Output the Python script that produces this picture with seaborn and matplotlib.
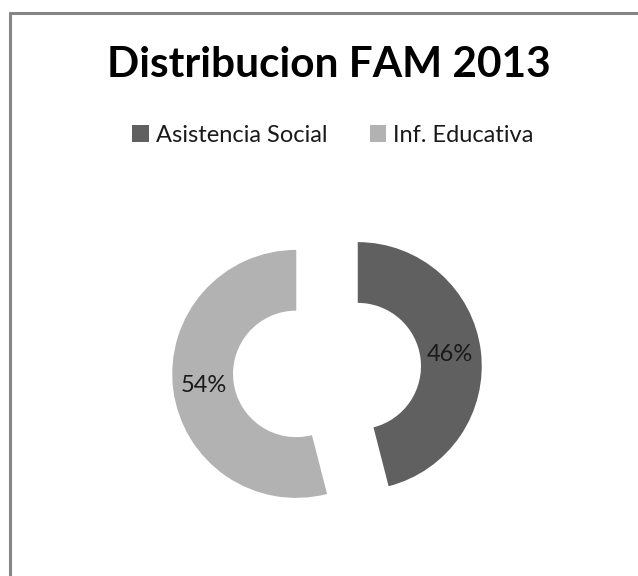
import matplotlib
matplotlib.use("Agg")
import matplotlib.pyplot as plt
from matplotlib.lines import Line2D
from matplotlib.patches import Patch
import seaborn as sns

# Programme shares for 2013
categories = ["Asistencia Social", "Inf. Educativa"]
shares = [46, 54]
colors = ["#606060", "#b2b2b2"]
title = "Distribucion FAM 2013"

sns.set_theme(style="white")
plt.rcParams["font.family"] = ["Lato", "DejaVu Sans"]

W, H = 638, 576
fig = plt.figure(figsize=(W / 100, H / 100), dpi=100)
fig.patch.set_facecolor("white")

# axes in pixel units over the whole canvas
ax = fig.add_axes([0, 0, 1, 1])

radius = 124
center = (327, H - 370)
gap = 31  # slice separation, same units as the radius
ax.pie(
    shares,
    colors=colors,
    startangle=90,
    counterclock=False,
    explode=[gap, gap],
    radius=radius,
    center=center,
    frame=True,
    autopct=lambda p: f"{p:.0f}%",
    pctdistance=0.75,
    wedgeprops=dict(width=radius * 0.49, edgecolor="none"),
    textprops=dict(fontsize=17, color="#1a1a1a"),
)
ax.set_xlim(0, W)
ax.set_ylim(0, H)
ax.set_aspect("equal")
ax.set_axis_off()

# chart-area frame (top and left edges)
fig.add_artist(Line2D([9.5 / W, 1.0], [1 - 12.5 / H, 1 - 12.5 / H],
                      transform=fig.transFigure, color="#868686", lw=2.2))
fig.add_artist(Line2D([9.5 / W, 9.5 / W], [1 - 12.5 / H, 0],
                      transform=fig.transFigure, color="#868686", lw=2.2))

fig.text(329 / W, 1 - 65 / H, title, ha="center", va="center",
         fontsize=30.5, fontweight="bold", color="black")

handles = [Patch(facecolor=c, edgecolor="none") for c in colors]
fig.legend(handles, categories, loc="center", bbox_to_anchor=(333 / W, 1 - 135 / H),
           ncol=2, frameon=False, fontsize=17, handlelength=0.7, handleheight=0.7,
           handletextpad=0.3, columnspacing=1.8, labelcolor="#1a1a1a")

fig.savefig("out.png", dpi=100, facecolor="white")
